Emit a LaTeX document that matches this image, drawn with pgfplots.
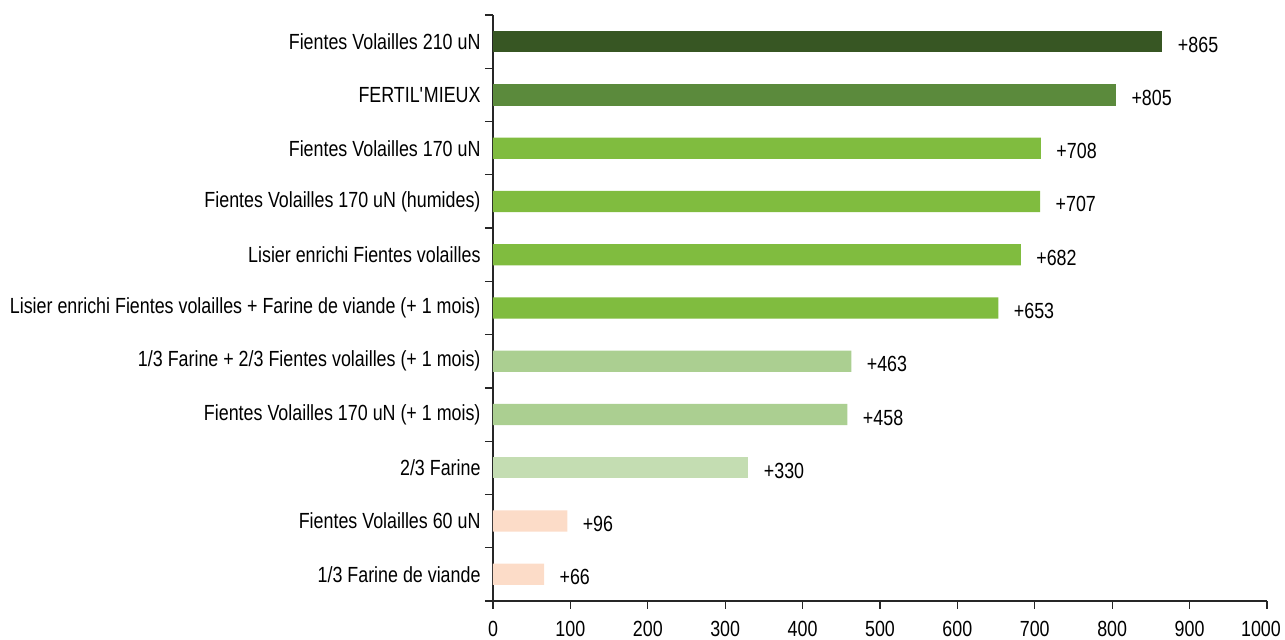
\documentclass[border=0pt]{standalone}
\usepackage{fontspec}
\setmainfont{Liberation Sans}[FakeStretch=0.815]
\usepackage{pgfplots}
\pgfplotsset{compat=1.18}

\definecolor{cDark}{HTML}{375623}
\definecolor{cMid}{HTML}{5B8A3C}
\definecolor{cGreen}{HTML}{80BC3F}
\definecolor{cLight}{HTML}{ABCF91}
\definecolor{cPale}{HTML}{C4DDB2}
\definecolor{cPeach}{HTML}{FCDCC8}

\newcommand\lblfont{\fontsize{22}{25}\selectfont}

\begin{document}
\lblfont
\begin{tikzpicture}[x=1bp,y=1bp]
\begin{axis}[
  scale only axis,
  width=774bp, height=586bp,
  xmin=0, xmax=1000,
  ymin=0.5, ymax=11.5,
  y dir=reverse,
  xbar, bar width=0.4, bar shift=0pt,
  axis lines*=left,
  axis line style={line width=1.3bp, black!85},
  xtick={0,100,...,900},
  extra x ticks={1000},
  extra x tick style={x tick label style={xshift=-6bp}},
  ytick={1,...,11},
  yticklabels={
    Fientes Volailles 210 uN,
    FERTIL\textquotesingle MIEUX,
    Fientes Volailles 170 uN,
    Fientes Volailles 170 uN (humides),
    Lisier enrichi Fientes volailles,
    Lisier enrichi Fientes volailles + Farine de viande (+ 1 mois),
    1/3 Farine + 2/3 Fientes volailles (+ 1 mois),
    Fientes Volailles 170 uN (+ 1 mois),
    2/3 Farine,
    Fientes Volailles 60 uN,
    1/3 Farine de viande},
  minor ytick={0.5,1.5,...,11.5},
  tick align=outside,
  major tick length=8bp,
  every major tick/.append style={line width=1.3bp, black!85},
  y tick style={draw=none},
  minor y tick style={draw=black!85, line width=1.3bp},
  minor tick length=8bp,
  y tick label style={xshift=3bp},
  x tick label style={yshift=-5bp},
  /pgf/number format/assume math mode=true,
  /pgf/number format/1000 sep={},
  tick label style={font=\lblfont},
  nodes near coords,
  nodes near coords align={horizontal},
  every node near coord/.append style={anchor=west, xshift=8bp, yshift=-3bp,
    font=\lblfont, text=black},
  point meta=explicit symbolic,
  clip=false,
]
\addplot[fill=cDark, draw=none] coordinates {(865,1) [+865]};
\addplot[fill=cMid, draw=none] coordinates {(805,2) [+805]};
\addplot[fill=cGreen, draw=none] coordinates {(708,3) [+708] (707,4) [+707] (682,5) [+682] (653,6) [+653]};
\addplot[fill=cLight, draw=none] coordinates {(463,7) [+463] (458,8) [+458]};
\addplot[fill=cPale, draw=none] coordinates {(330,9) [+330]};
\addplot[fill=cPeach, draw=none] coordinates {(96,10) [+96] (66,11) [+66]};
\coordinate (bbBL) at (rel axis cs:-0.637,-0.0666);
\coordinate (bbTR) at (rel axis cs:1.0233,1.0256);
\end{axis}
\pgfresetboundingbox
\useasboundingbox (bbBL) rectangle (bbTR);
\end{tikzpicture}
\end{document}
